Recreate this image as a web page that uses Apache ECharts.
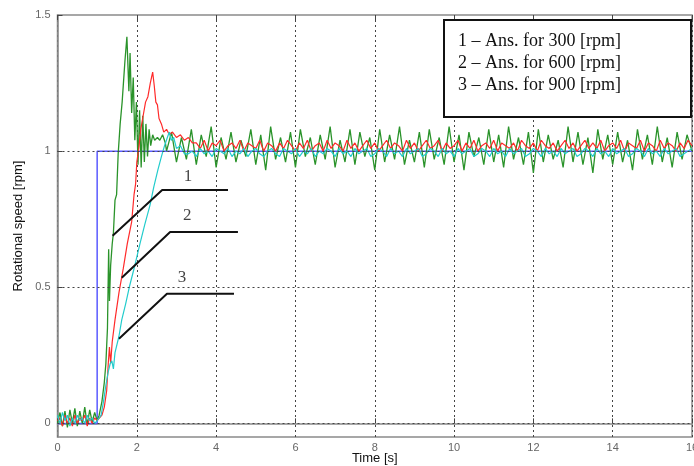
<!DOCTYPE html>
<html><head><meta charset="utf-8">
<script src="https://cdn.jsdelivr.net/npm/echarts@6/dist/echarts.min.js"></script>
<style>html,body{margin:0;padding:0;background:#fff}#c{width:694px;height:466px}</style>
</head><body><div id="c"></div>
<script>
// ---------- data ----------
const xTicks = [0,2,4,6,8,10,12,14,16];
const yTicks = [0,0.5,1,1.5];
const legendLines = ['1 \u2013 Ans. for 300 [rpm]','2 \u2013 Ans. for 600 [rpm]','3 \u2013 Ans. for 900 [rpm]'];

const refStep = [[0,0],[1,0],[1,1],[16,1]];

const preDt = 0.0625;
const greenPre = [0.0,0.04,-0.01,0.045,-0.015,0.05,0.0,0.055,-0.01,0.045,0.0,0.06,-0.005,0.05,0.005,0.04,0.01];
const redPre   = [0.01,0.02,-0.01,0.03,0.0,0.02,-0.01,0.03,0.0,0.02,0.01,0.03,-0.01,0.02,0.0,0.02,0.01];
const cyanPre  = [0.03,0.0,0.04,0.01,0.03,-0.01,0.02,0.0,0.03,0.01,0.02,0.0,0.03,0.01,0.02,0.0,0.01];

const greenRise = [[1.05,0.03],[1.12,0.08],[1.18,0.15],[1.22,0.22],[1.26,0.35],[1.29,0.64],[1.31,0.45],[1.34,0.58],[1.38,0.66],[1.41,0.70],[1.45,0.82],[1.49,0.84],[1.53,0.99],[1.58,1.10],[1.63,1.18],[1.70,1.33],[1.75,1.42],[1.78,1.30],[1.80,1.22],[1.83,1.36],[1.87,1.14],[1.91,1.27],[1.95,1.04],[1.99,1.18],[2.03,0.95],[2.07,1.15],[2.11,0.94],[2.15,1.13],[2.19,0.96],[2.23,1.10],[2.27,0.98],[2.31,1.08],[2.35,1.02],[2.40,1.06],[2.45,1.04],[2.52,1.05],[2.58,1.04],[2.65,1.06],[2.72,1.03]];
const redRise = [[1.05,0.015],[1.12,0.03],[1.18,0.06],[1.24,0.12],[1.28,0.22],[1.31,0.28],[1.34,0.22],[1.38,0.30],[1.45,0.38],[1.55,0.48],[1.66,0.57],[1.76,0.66],[1.87,0.74],[1.93,0.84],[1.97,0.88],[2.0,0.96],[2.05,1.01],[2.10,1.08],[2.16,1.13],[2.22,1.18],[2.28,1.20],[2.34,1.25],[2.40,1.29],[2.44,1.24],[2.48,1.18],[2.52,1.17],[2.56,1.12],[2.62,1.10],[2.68,1.07],[2.75,1.08],[2.82,1.06],[2.9,1.07],[3.0,1.05],[3.1,1.06],[3.2,1.04],[3.3,1.05],[3.4,1.03]];
const cyanRise = [[1.05,0.01],[1.1,0.03],[1.16,0.08],[1.22,0.14],[1.28,0.19],[1.33,0.22],[1.37,0.23],[1.41,0.20],[1.45,0.26],[1.55,0.32],[1.62,0.38],[1.72,0.44],[1.81,0.50],[1.95,0.58],[2.08,0.66],[2.2,0.73],[2.33,0.80],[2.43,0.87],[2.53,0.93],[2.62,0.98],[2.7,1.02],[2.77,1.05],[2.82,1.07],[2.87,1.04],[2.93,1.05],[3.0,1.01],[3.1,1.02],[3.2,0.99]];

const greenSteadyStart = 2.75, greenSteadyDt = 0.125;
const greenSteady = [
1.00,1.07,0.96,1.05,0.97,1.08,0.95,1.06,0.98,1.09,
0.94,1.05,0.97,1.07,0.96,1.04,0.98,1.08,0.95,1.06,
0.93,1.09,0.97,1.05,0.96,1.07,0.94,1.08,0.98,1.05,
0.95,1.06,0.97,1.09,0.94,1.04,0.96,1.08,0.95,1.07,
0.98,1.05,0.93,1.08,0.96,1.06,0.97,1.09,0.95,1.04,
0.96,1.07,0.94,1.08,0.97,1.05,0.95,1.09,0.96,1.06,
0.93,1.07,0.98,1.05,0.95,1.08,0.96,1.06,0.94,1.09,
0.97,1.05,0.95,1.07,0.92,1.08,0.96,1.06,0.97,1.04,
0.94,1.09,0.96,1.07,0.95,1.05,0.92,1.08,0.97,1.06,
0.95,1.07,0.96,1.04,0.93,1.08,0.97,1.06,0.95,1.09,
0.96,1.05,0.94,1.07,0.97,1.06,1.00];
const redSteadyStart = 3.5, redSteadyDt = 0.1;
const redSteady = [
1.03,1.01,1.04,1.00,1.03,1.02,1.04,1.00,1.02,1.03,
1.01,1.04,1.00,1.03,1.02,1.01,1.04,1.00,1.03,1.02,
1.00,1.03,1.01,1.04,1.02,1.00,1.03,1.01,1.04,1.00,
1.02,1.03,1.00,1.04,1.01,1.03,1.02,1.00,1.04,1.01,
1.03,1.00,1.02,1.04,1.01,1.03,1.00,1.02,1.04,1.01,
1.03,1.02,1.00,1.04,1.01,1.03,1.00,1.02,1.04,1.01,
1.02,1.04,1.00,1.03,1.01,1.02,1.04,1.00,1.03,1.01,
1.04,1.00,1.02,1.03,1.01,1.04,1.00,1.03,1.02,1.01,
1.03,1.00,1.04,1.02,1.01,1.03,1.00,1.04,1.02,1.01,
1.03,1.00,1.02,1.04,1.01,1.03,1.00,1.02,1.04,1.01,
1.03,1.01,1.04,1.00,1.02,1.03,1.01,1.04,1.00,1.03,
1.02,1.01,1.04,1.00,1.03,1.02,1.00,1.04,1.01,1.03,
1.02,1.00,1.03,1.01,1.04,1.02];
const cyanSteadyStart = 3.3, cyanSteadyDt = 0.1;
const cyanSteady = [
0.99,1.00,0.98,1.01,0.99,1.00,0.98,1.01,1.00,0.99,
1.01,0.98,1.00,0.99,1.01,0.98,1.00,1.01,0.99,0.98,
1.00,1.01,0.99,0.98,1.01,1.00,0.99,1.01,0.98,1.00,
0.99,1.01,0.98,1.00,0.99,1.01,1.00,0.98,1.01,0.99,
1.00,0.98,1.01,0.99,1.00,1.01,0.98,0.99,1.01,1.00,
0.98,1.01,0.99,1.00,0.98,1.01,0.99,1.00,1.01,0.98,
0.99,1.01,1.00,0.98,1.01,0.99,1.00,0.98,1.01,0.99,
1.00,1.01,0.98,0.99,1.01,1.00,0.98,1.01,0.99,1.00,
0.98,1.01,0.99,1.00,1.01,0.98,0.99,1.01,1.00,0.98,
1.01,0.99,1.00,0.98,1.01,0.99,1.00,1.01,0.98,0.99,
1.01,1.00,0.98,1.01,0.99,1.00,0.98,1.01,0.99,1.00,
1.01,0.98,0.99,1.01,1.00,0.98,1.01,0.99,1.00,0.98,
1.01,0.99,1.00,1.01,0.98,0.99,1.00,1.01];

// annotation leader lines (data coords) and their numbers
const leader1 = [[1.39,0.689],[2.64,0.857],[4.30,0.857]];
const leader2 = [[1.62,0.535],[2.84,0.703],[4.55,0.703]];
const leader3 = [[1.55,0.311],[2.76,0.476],[4.45,0.476]];
const leaderLabels = [[3.29,0.908,'1'],[3.27,0.762,'2'],[3.14,0.535,'3']];

// ---------- build ----------
function build(pre, rise, steady, start, dt){
  const out = [];
  pre.forEach((v,i)=>out.push([+(i*preDt).toFixed(4), v]));
  rise.forEach(p=>out.push(p));
  steady.forEach((v,i)=>out.push([+(start+i*dt).toFixed(4), v]));
  return out;
}
const green = build(greenPre, greenRise, greenSteady, greenSteadyStart, greenSteadyDt);
const red   = build(redPre, redRise, redSteady, redSteadyStart, redSteadyDt);
const cyan  = build(cyanPre, cyanRise, cyanSteady, cyanSteadyStart, cyanSteadyDt);

const gridLine = {show:true, lineStyle:{color:'#444', type:[2,3], width:1}};
const axisCol = '#8a8a8a';
const labelStyle = {color:'#666', fontFamily:'Liberation Sans, Arial, sans-serif', fontSize:11};

const chart = echarts.init(document.getElementById('c'), null, {renderer:'canvas'});
const leaderStyle = {color:'#111', width:2};
function leaderSeries(d){return {type:'line', data:d, symbol:'none', silent:true, lineStyle:leaderStyle, z:5, animation:false};}

chart.setOption({
  animation:false,
  grid:{left:57.5, right:2, top:15, bottom:29, show:true, borderColor:axisCol, borderWidth:1.5,
        containLabel:false, outerBoundsMode:'none'},
  xAxis:[{
    type:'value', min:0, max:16, interval:2,
    name:'Time [s]', nameLocation:'middle', nameGap:15, nameMoveOverlap:false,
    nameTextStyle:{color:'#111', fontFamily:'Liberation Sans, Arial, sans-serif', fontSize:13},
    axisLine:{show:true, lineStyle:{color:axisCol, width:1.5}},
    axisTick:{show:true, inside:true, length:5, lineStyle:{color:'#444'}},
    axisLabel:Object.assign({margin:5, formatter:v=>String(v), hideOverlap:false}, labelStyle),
    splitLine:gridLine
  },{
    type:'value', min:0, max:16, interval:2, position:'top',
    axisLine:{show:false}, axisTick:{show:true, inside:true, length:5, lineStyle:{color:'#444'}},
    axisLabel:{show:false}, splitLine:{show:false}
  }],
  yAxis:[{
    type:'value', min:-0.05, max:1.5,
    name:'Rotational speed [rpm]', nameLocation:'middle', nameGap:33, nameMoveOverlap:false,
    nameTextStyle:{color:'#111', fontFamily:'Liberation Sans, Arial, sans-serif', fontSize:13},
    axisLine:{show:true, lineStyle:{color:axisCol, width:1.5}},
    axisTick:{show:true, inside:true, length:5, customValues:yTicks, lineStyle:{color:'#444'}},
    axisLabel:Object.assign({margin:7, customValues:yTicks, formatter:v=>String(v)}, labelStyle),
    splitLine:{show:false}
  }],
  series:[
    {type:'line', name:'grid', data:[], silent:true,
      markLine:{silent:true, symbol:'none', label:{show:false},
        lineStyle:{color:'#444', type:[2,3], width:1},
        data:yTicks.filter(v=>v<1.5).map(v=>({yAxis:v}))}},
    {type:'line', name:'ref', data:refStep, symbol:'none', lineStyle:{color:'#5a5aff', width:1.5}, z:2},
    {type:'line', name:'300', data:green, symbol:'none', lineStyle:{color:'#2a932a', width:1.3}, z:3},
    {type:'line', name:'600', data:red, symbol:'none', lineStyle:{color:'#ff2a2a', width:1.2}, z:3},
    {type:'line', name:'900', data:cyan, symbol:'none', lineStyle:{color:'#22cccc', width:1.2}, z:3},
    leaderSeries(leader1), leaderSeries(leader2), leaderSeries(leader3),
    {type:'scatter', data:leaderLabels, symbolSize:0, silent:true, z:6,
      label:{show:true, position:'inside', formatter:p=>p.value[2], color:'#111',
        fontFamily:'Liberation Serif, Times New Roman, serif', fontSize:17}}
  ],
  graphic:[
    {type:'rect', shape:{x:444, y:20, width:247, height:97}, style:{fill:'#fff', stroke:'#111', lineWidth:2}, z:100},
    {type:'text', x:458, y:30, style:{text:legendLines.join('\n'), fill:'#111', lineHeight:22,
      font:'18px "Liberation Serif", "Times New Roman", serif'}, z:101}
  ]
});
</script></body></html>
